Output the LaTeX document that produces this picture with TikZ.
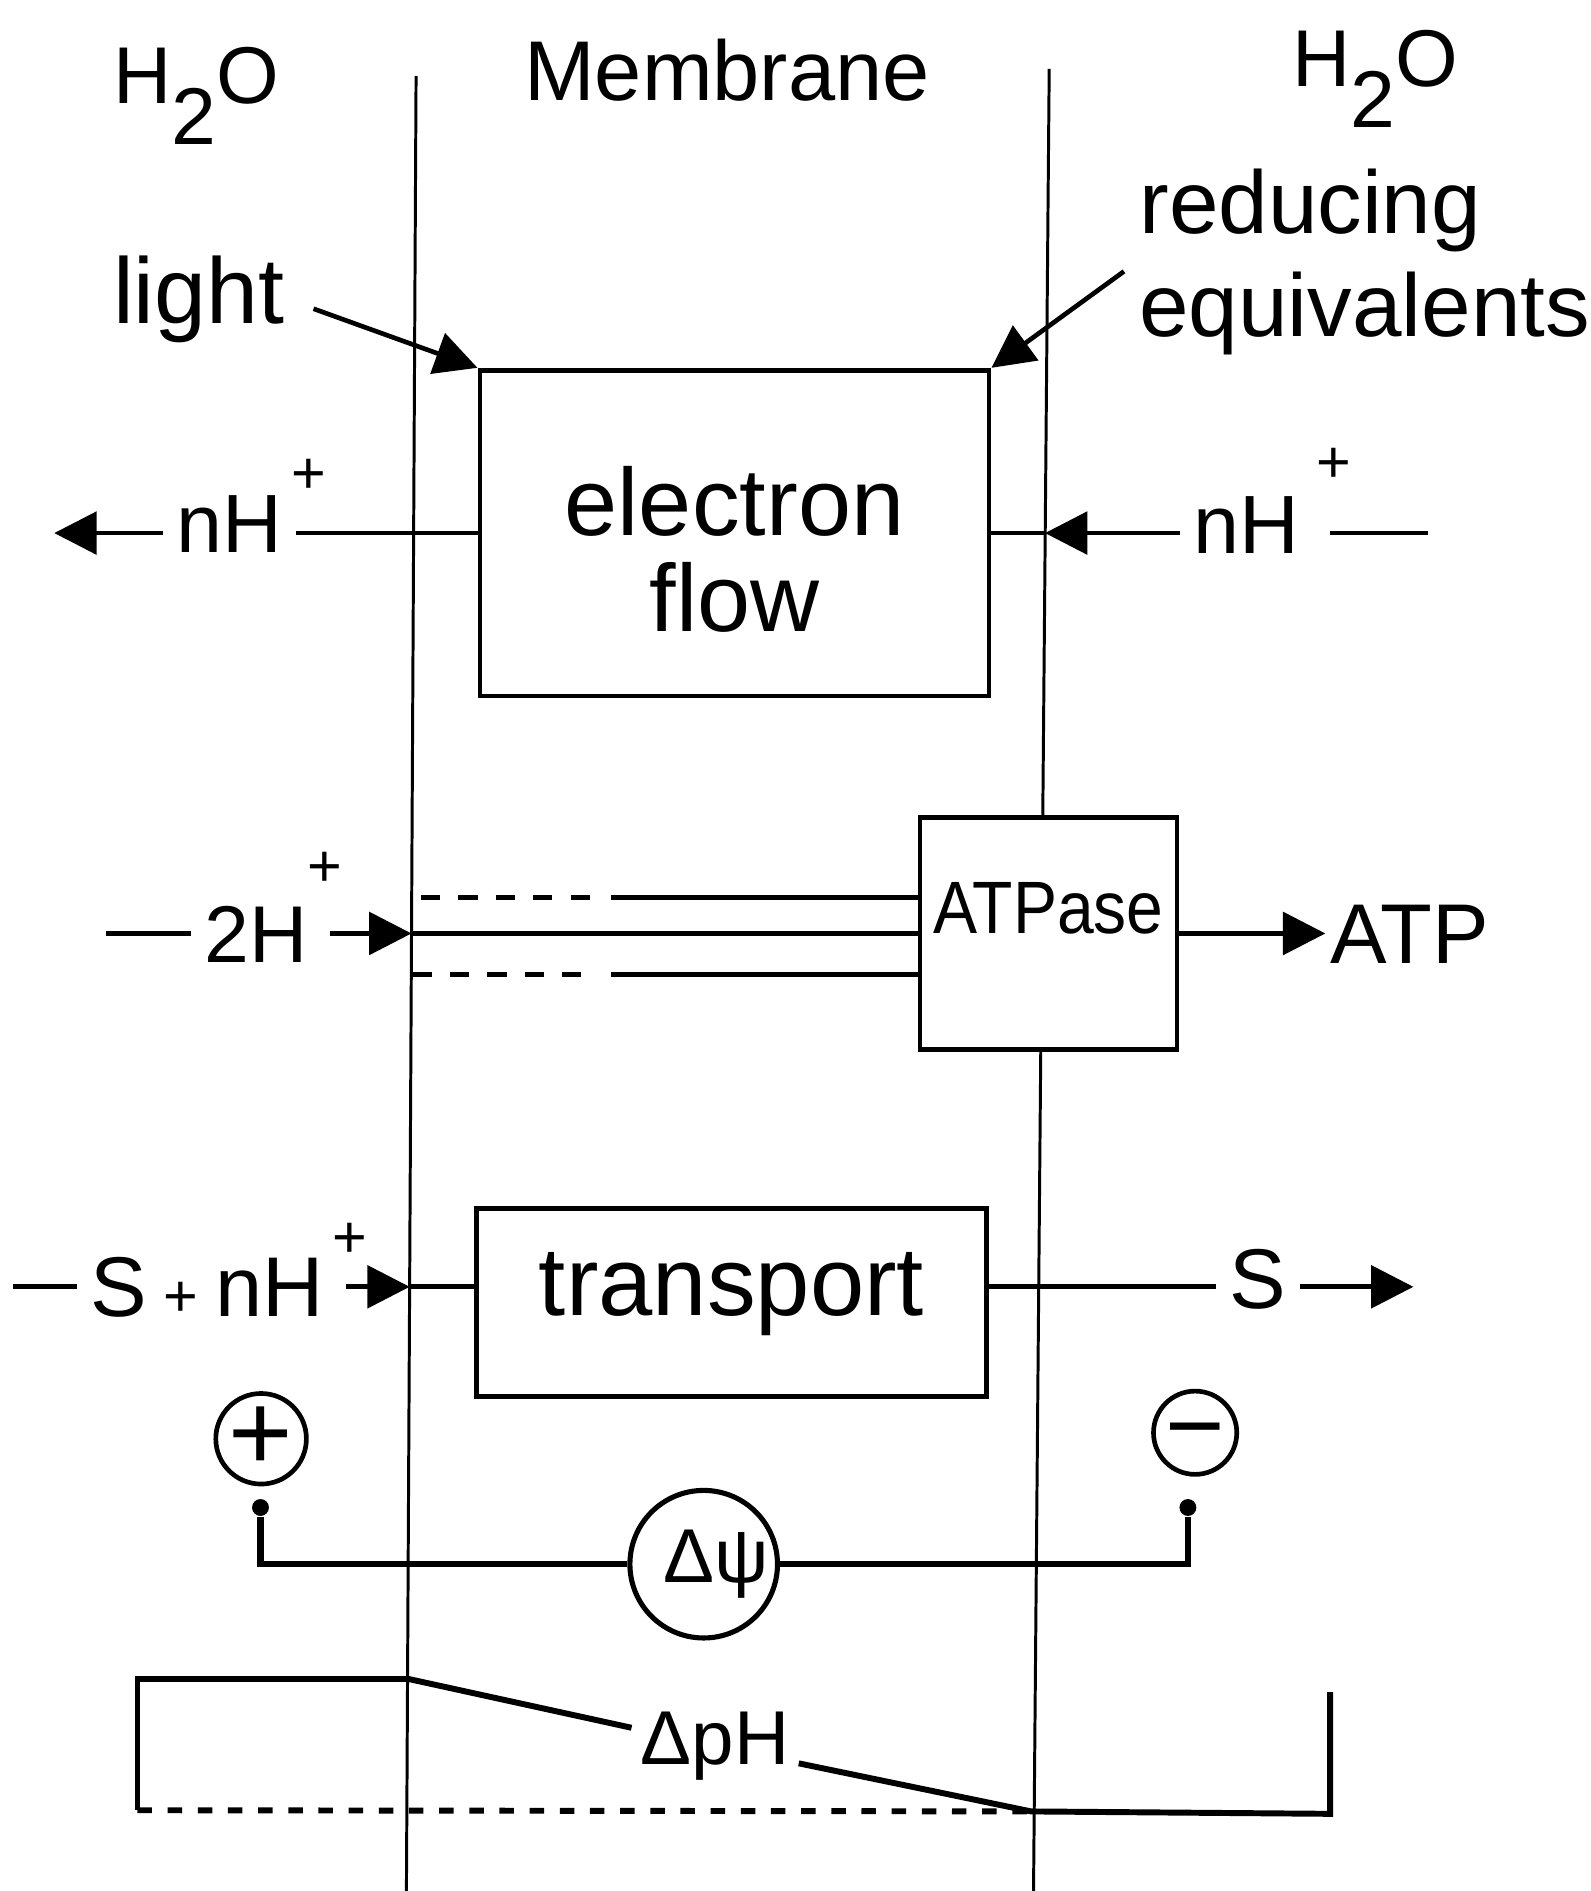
\documentclass[tikz,border=0pt]{standalone}
\usepackage{fontspec}
\setmainfont{Liberation Sans}
\usepackage{graphicx}
\usetikzlibrary{arrows.meta}
\newcommand\myfs[1]{\fontsize{#1}{#1}\selectfont}
% superscript plus: #1 = gap after letter, #2 = raise above baseline
\newcommand\supplus[2]{\rlap{\hspace{#1}\raisebox{#2}[0pt][0pt]{\myfs{14}+}}}
\begin{document}
\begin{tikzpicture}[x=0.01cm,y=-0.01cm,
  mem/.style={line width=0.7pt},
  box/.style={draw,rectangle,line width=1.1pt,inner sep=0pt},
  con/.style={line width=1.1pt},
  arr/.style={con,-{Triangle[length=10pt,width=10pt]}},
  lbl/.style={inner xsep=3pt,inner ysep=0pt},
  sign/.style={draw,circle,line width=1.1pt,inner sep=0pt},
  dotc/.style={fill,circle,inner sep=0pt,minimum size=0.14cm},
  dsh/.style={con,dash pattern=on 0.16cm off 0.15cm},
  dshb/.style={line width=1.4pt,dash pattern=on 0.12cm off 0.13cm}
]
\useasboundingbox (0,0) rectangle (1319,1568);

% membrane boundaries
\coordinate (mLt) at (345,63);  \coordinate (mLb) at (337,1568);
\coordinate (mRt) at (870,57);  \coordinate (mRb) at (857,1568);
\draw[mem] (mLt) -- (mLb);
\draw[mem] (mRt) -- (mRb);

% headings
\node[lbl,anchor=base west,font=\myfs{19}] (h2oL) at (82.5,86) {H\raisebox{-0.5em}{2}O};
\node[lbl,anchor=base west,font=\myfs{20}] (memb) at (423.5,83) {Membrane};
\node[lbl,anchor=base west,font=\myfs{19}] (h2oR) at (1060.5,72) {H\raisebox{-0.5em}{2}O};

% light / reducing equivalents
\node[lbl,anchor=base west,font=\myfs{22}] (light) at (82.5,268) {light};
\node[lbl,anchor=north west,align=left,font=\fontsize{21}{24.5}\selectfont] (reduc) at (933.5,139) {reducing\\equivalents};

% electron flow box
\node[box,minimum width=4.22cm,minimum height=2.70cm,font=\fontsize{22.5}{21.3}\selectfont] (ef) at (609,442)
  {\raisebox{-7pt}[\height][\depth]{\begin{tabular}{@{}c@{}}electron\\flow\end{tabular}}};

\coordinate (lightS) at (260,256);
\coordinate (redS) at (932,225);
\draw[arr] (lightS) -- (ef.north west);
\draw[arr] (redS) -- (ef.north east);

% nH+ row
\node[lbl,anchor=base west,font=\myfs{19.5}] (nHL) at (135.5,458) {nH\supplus{2pt}{13.9pt}};
\node[lbl,anchor=base west,font=\myfs{19.5}] (nHR) at (978.5,459) {nH\supplus{4pt}{16.7pt}};
\coordinate (nHLend) at (45,442);
\coordinate (nHRend) at (1184,442);
\coordinate (jR1) at (866.5,442);
\draw[arr] (nHL.west |- ef.west) -- (nHLend);
\draw[con] (nHL.east |- ef.west) -- (ef.west);
\draw[arr] (nHR.west |- ef.east) -- (jR1);
\draw[con] (jR1) -- (ef.east);
\draw[con] ([xshift=4pt]nHR.east |- ef.east) -- (nHRend);

% ATPase row
\node[box,fill=white,minimum width=2.13cm,minimum height=1.92cm,font=\myfs{17.5}] (atp) at (869.5,774)
  {\raisebox{6pt}[\height][\depth]{\scalebox{0.89}[1]{ATPase}}};
\coordinate (jL2) at (341.2,774);
\coordinate (dTa) at (349,744);  \coordinate (dTb) at (491,744);  \coordinate (sTa) at (507,744);
\coordinate (dBa) at (342,808);  \coordinate (dBb) at (491,808);  \coordinate (sBa) at (507,808);
\draw[dsh] (dTa) -- (dTb);
\draw[con] (sTa) -- (atp.west |- sTa);
\draw[dsh] (dBa) -- (dBb);
\draw[con] (sBa) -- (atp.west |- sBa);
\draw[con] (jL2) -- (atp.west);

\node[lbl,anchor=base west,font=\myfs{19}] (twoH) at (158.5,798) {2H\supplus{0pt}{18pt}};
\coordinate (twoHs) at (88,774);
\draw[con] (twoHs) -- (twoH.west |- jL2);
\draw[arr] ([xshift=2pt]twoH.east |- jL2) -- (jL2);

\node[inner xsep=1pt,inner ysep=0pt,anchor=base west,font=\myfs{20}] (atpL) at (1099,799) {ATP};
\draw[arr] (atp.east) -- (atpL.west |- atp.east);

% transport row
\node[box,minimum width=4.23cm,minimum height=1.56cm,font=\myfs{23}] (tr) at (606.5,1080)
  {\raisebox{2pt}[\height][\depth]{transport}};
\node[lbl,anchor=base west,font=\myfs{20}] (SnH) at (63.5,1092)
  {S\hspace{4pt}{\myfs{14}+}\hspace{4pt}nH\supplus{2pt}{14pt}};
\node[lbl,anchor=base west,font=\myfs{20}] (Sout) at (1008.5,1085) {S};
\coordinate (SnHs) at (11,1067);
\coordinate (jL3) at (339.7,1067);
\coordinate (Send) at (1172,1067);
\draw[con] (SnHs) -- (SnH.west |- jL3);
\draw[arr] ([xshift=2pt]SnH.east |- jL3) -- (jL3);
\draw[con] (jL3) -- (tr.west |- jL3);
\draw[con] (tr.east |- jL3) -- (Sout.west |- jL3);
\draw[arr] (Sout.east |- jL3) -- (Send);

% membrane potential
\node[sign,minimum size=0.68cm,font=\myfs{26}] (plus) at (216.5,1193) {+};
\node[sign,minimum size=0.69cm,font=\myfs{24}] (minus) at (991,1188) {\raisebox{-6.5pt}[0pt][0pt]{−}};
\node[dotc] (dotL) at (216,1250) {};
\node[dotc] (dotR) at (985,1250) {};
\node[sign,line width=1.2pt,minimum size=1.02cm,font=\myfs{18}] (dpsi) at (583.5,1297) {\hspace{6pt}Δψ};
\draw[line width=1.5pt] (dotL) |- (dpsi);
\draw[line width=1.5pt] (dotR) |- (dpsi);

% pH gradient
\coordinate (pA) at (338,1392);
\coordinate (pB) at (114,1392);
\coordinate (pC) at (114,1501);
\coordinate (pD) at (855,1502);
\coordinate (pE) at (1103,1504);
\coordinate (pF) at (1103,1403);
\node[inner sep=2pt,anchor=base,font=\myfs{18}] (dph) at (593,1463) {ΔpH};
\draw[line width=1.4pt] (pA) -- (pB) -- (pC);
\draw[dshb] (pC) -- (pD);
\draw[line width=1.4pt] (pA) -- (dph) -- (pD) -- (pE) -- (pF);
\end{tikzpicture}
\end{document}
